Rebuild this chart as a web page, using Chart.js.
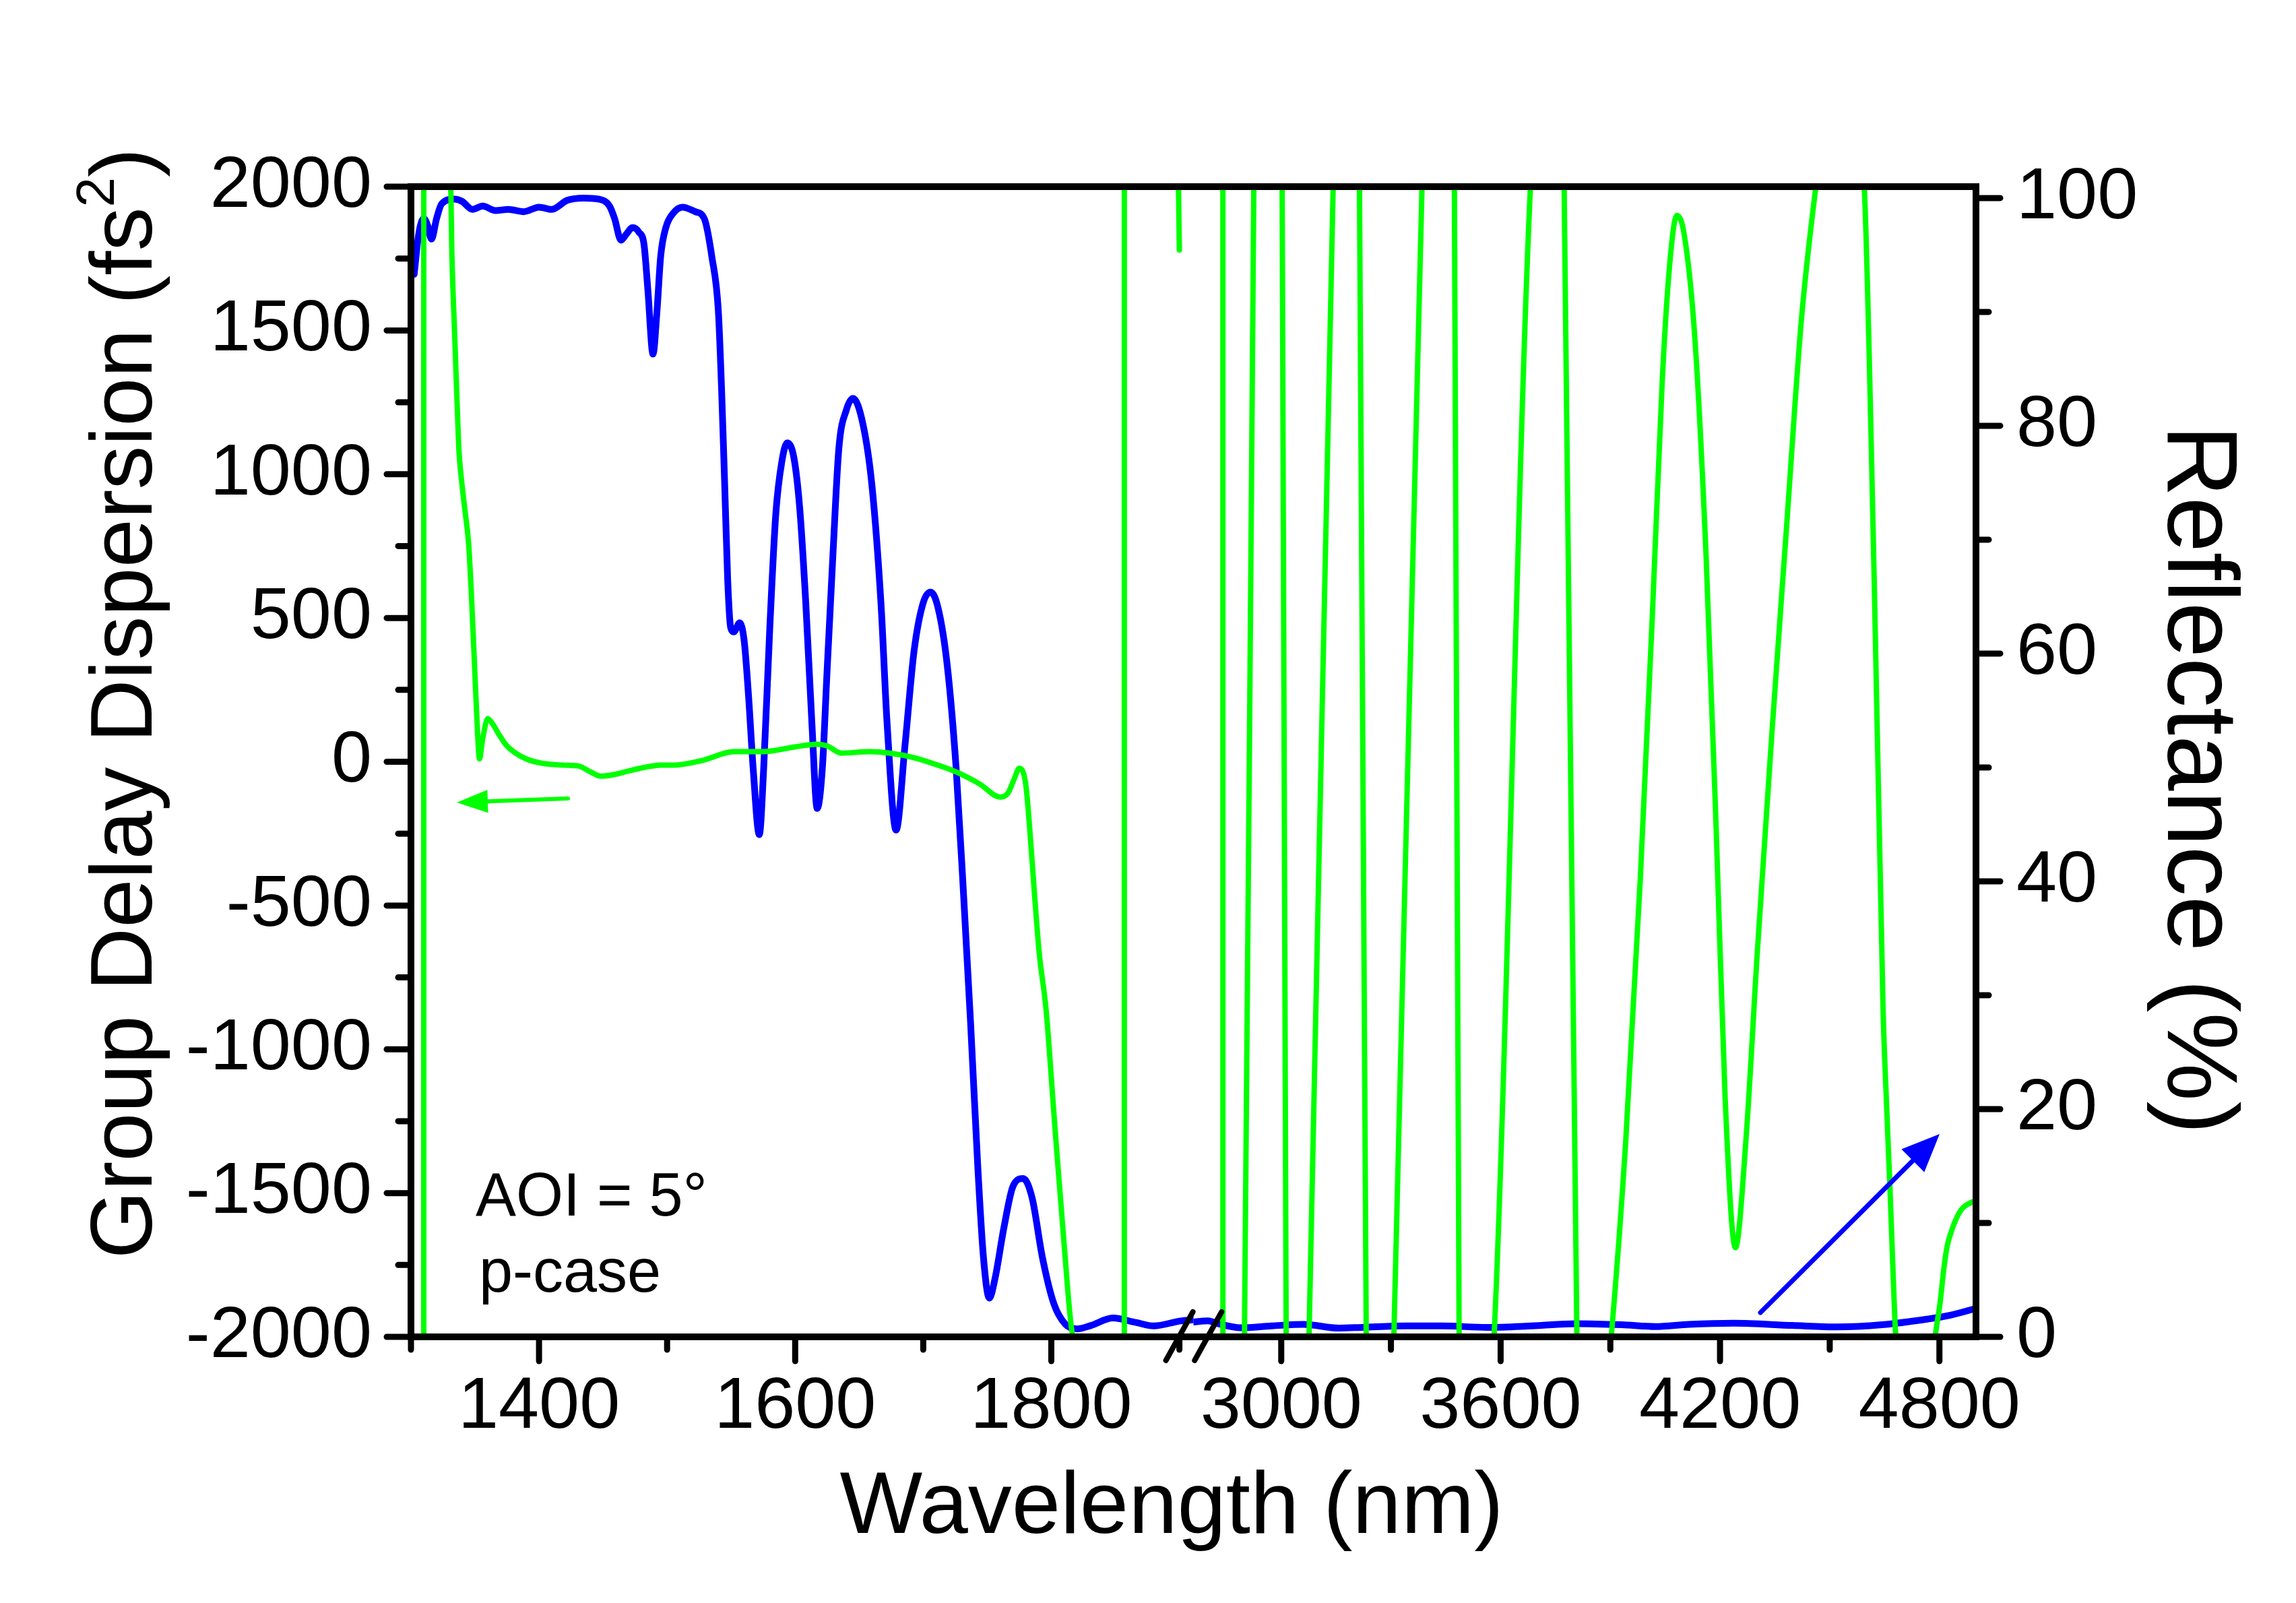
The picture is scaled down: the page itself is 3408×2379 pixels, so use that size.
<!DOCTYPE html>
<html>
<head>
<meta charset="utf-8">
<script src="https://cdn.jsdelivr.net/npm/chart.js@4.4.1/dist/chart.umd.min.js"></script>
<style>
  html, body { margin: 0; padding: 0; background: #fff; }
</style>
</head>
<body>
<canvas id="myChart" width="3408" height="2379"></canvas>
<script>
// ---- data ----
// reflectance (%), blue, short-wave part of the broken axis
const reflLeftNm = [1302.5, 1306, 1310, 1313, 1316, 1320, 1324, 1334, 1340, 1348, 1356, 1366, 1376, 1388, 1400, 1410, 1422, 1435, 1447, 1455, 1459, 1464, 1468, 1473, 1478, 1482, 1485, 1489, 1492, 1495, 1499, 1505, 1512, 1522, 1529, 1535, 1540, 1542.6, 1545, 1547.3, 1549.6, 1552, 1556.7, 1560.2, 1563.7, 1567.2, 1572, 1575.4, 1580.2, 1584.9, 1589.5, 1593.8, 1599, 1603.6, 1608.3, 1613, 1617.2, 1621.2, 1624.8, 1629.4, 1634.1, 1640, 1645.2, 1653, 1660, 1667, 1671.7, 1678.8, 1685.8, 1692.8, 1699.8, 1705.7, 1711.6, 1718.7, 1725.7, 1731.5, 1737, 1742.7, 1747, 1751.6, 1756, 1763, 1770, 1778, 1785, 1793, 1802, 1811, 1820, 1831, 1848, 1866, 1880, 1901, 1911];
const reflLeftPct = [93.3, 96.8, 98.2, 97.6, 96.4, 98.2, 99.5, 99.9, 99.7, 99.0, 99.3, 98.9, 99.0, 98.8, 99.2, 99.0, 99.8, 100.0, 99.9, 99.3, 98.2, 96.3, 96.8, 97.4, 97.0, 95.9, 91.9, 86.3, 89.9, 94.9, 97.4, 98.7, 99.2, 98.8, 98.2, 94.8, 90.1, 83.0, 74.7, 66.5, 62.3, 61.9, 62.7, 61.1, 56.1, 49.9, 44.1, 49.9, 62.3, 72.3, 76.8, 78.5, 77.2, 72.7, 64.4, 54.0, 46.4, 49.9, 58.2, 68.5, 78.0, 81.4, 82.4, 80.1, 74.7, 64.4, 54.0, 44.5, 52.0, 60.2, 64.4, 65.4, 64.0, 59.0, 49.9, 38.8, 27.5, 14.7, 7.0, 3.4, 5.1, 9.6, 13.2, 13.9, 12.2, 7.0, 2.9, 1.1, 0.7, 1.0, 1.65, 1.26, 0.96, 1.4, 1.5];
// reflectance (%), long-wave part
const reflRightNm = [2760, 2800, 2827, 2888, 2974, 3060, 3158, 3220, 3342, 3440, 3563, 3685, 3808, 3931, 4023, 4115, 4238, 4398, 4520, 4643, 4766, 4830, 4900];
const reflRightPct = [1.3, 1.4, 1.16, 0.8, 0.96, 1.1, 0.77, 0.83, 0.96, 0.96, 0.83, 0.96, 1.16, 1.06, 0.9, 1.1, 1.2, 1.0, 0.87, 1.06, 1.55, 1.9, 2.5];

// group delay dispersion (fs^2), green; values past +-2000 run off the plot
const gddLeftNm = [1300, 1309.8, 1310.2, 1325, 1331, 1332, 1334, 1336, 1337.5, 1339, 1342, 1345, 1347, 1349.5, 1352, 1353.5, 1356, 1360, 1364, 1368, 1374, 1380, 1390, 1402, 1420, 1431, 1440, 1448, 1458, 1470, 1482, 1495, 1505, 1528, 1552, 1575, 1599, 1617, 1625, 1636, 1658, 1674, 1693, 1716, 1730, 1744, 1760, 1766, 1771, 1775, 1780, 1783, 1787, 1790.5, 1796, 1802, 1810, 1817, 1830, 1856.9, 1857.1, 1880, 1898, 1900];
const gddLeftFs2 = [-2600, -30000, 30000, 2600, 2000, 1759, 1501, 1251, 1080, 1000, 880, 760, 600, 350, 100, 10, 80, 150, 130, 100, 60, 35, 10, -5, -12, -15, -35, -50, -45, -32, -20, -12, -12, 5, 35, 35, 51, 61, 55, 30, 35, 30, 14, -19, -44, -77, -123, -110, -60, -23, -77, -225, -468, -662, -866, -1222, -1679, -2000, -2600, -30000, 30000, 2600, 2300, 1780];
const gddRightNm = [2800, 2840.3, 2840.7, 2870, 2899.4, 2925, 2962, 3002.5, 3013.5, 3045, 3076, 3142, 3178, 3214, 3232.5, 3270, 3308, 3385, 3430, 3473.6, 3486.5, 3534, 3582, 3681.6, 3728, 3773.7, 3808.6, 3855, 3902.5, 3942, 3982, 4015, 4042, 4062.6, 4082, 4102, 4131, 4162, 4190, 4214, 4242, 4270.5, 4302, 4342, 4382, 4422, 4462, 4528, 4594.5, 4622, 4646, 4655, 4665, 4674, 4680, 4735, 4790, 4802, 4812, 4821, 4833, 4845, 4863, 4900];
const gddRightFs2 = [2600, 30000, -30000, -2600, -2000, 2000, 2600, 2000, -2000, -2600, -2000, 2000, 2600, 2000, -2000, -2600, -2000, 2000, 2600, 2000, -2000, -2600, -2000, 2000, 2600, 2000, -2000, -2600, -2000, -1323, -407, 510, 1325, 1733, 1900, 1834, 1477, 713, -254, -1170, -1690, -1323, -662, 102, 817, 1529, 2000, 2600, 2000, 612, -866, -1178, -1491, -1803, -1984, -2600, -1984, -1880, -1764, -1686, -1632, -1592, -1553, -1525];

// axes
const xLeftTicks = [1300, 1400, 1500, 1600, 1700, 1800, 1900];
const xRightTicks = [3000, 3300, 3600, 3900, 4200, 4500, 4800];
const xTickLabels = [1400, 1600, 1800, 3000, 3600, 4200, 4800];
const gddTicks = [-2000, -1750, -1500, -1250, -1000, -750, -500, -250, 0, 250, 500, 750, 1000, 1250, 1500, 1750, 2000];
const reflTicks = [0, 10, 20, 30, 40, 50, 60, 70, 80, 90, 100];

const FONT = "'Liberation Sans', Arial, Helvetica, sans-serif";
const GREEN = '#00ff00';
const BLUE = '#0000ff';

function pts(xs, ys) {
  return xs.map((x, i) => ({x: x, y: ys[i]}));
}

function line(ctx, x1, y1, x2, y2) {
  ctx.beginPath();
  ctx.moveTo(x1, y1);
  ctx.lineTo(x2, y2);
  ctx.stroke();
}

function arrow(ctx, x1, y1, x2, y2, color, width, headLen, headHalf) {
  const ang = Math.atan2(y2 - y1, x2 - x1);
  const bx = x2 - headLen * Math.cos(ang);
  const by = y2 - headLen * Math.sin(ang);
  ctx.strokeStyle = color;
  ctx.fillStyle = color;
  ctx.lineWidth = width;
  ctx.lineCap = 'round';
  line(ctx, x1, y1, bx, by);
  ctx.beginPath();
  ctx.moveTo(x2, y2);
  ctx.lineTo(bx + headHalf * Math.sin(ang), by - headHalf * Math.cos(ang));
  ctx.lineTo(bx - headHalf * Math.sin(ang), by + headHalf * Math.cos(ang));
  ctx.closePath();
  ctx.fill();
}

// frame, tick marks, axis break, titles and notes
const decor = {
  id: 'decor',
  afterDraw(chart) {
    const {ctx, chartArea: a, scales} = chart;
    ctx.save();
    ctx.strokeStyle = '#000';
    ctx.lineCap = 'round';
    ctx.lineWidth = 9;

    scales.yL.ticks.forEach(t => {
      const y = scales.yL.getPixelForValue(t.value);
      line(ctx, a.left, y, a.left - (t.value % 500 === 0 ? 36 : 19), y);
    });
    scales.yR.ticks.forEach(t => {
      const y = scales.yR.getPixelForValue(t.value);
      line(ctx, a.right, y, a.right + (t.value % 20 === 0 ? 36 : 19), y);
    });
    [scales.xL, scales.xR].forEach(s => {
      s.ticks.forEach(t => {
        const x = s.getPixelForValue(t.value);
        line(ctx, x, a.bottom, x, a.bottom + (xTickLabels.includes(t.value) ? 36 : 19));
      });
    });

    ctx.lineWidth = 10;
    ctx.lineCap = 'butt';
    ctx.lineJoin = 'miter';
    ctx.strokeRect(a.left, a.top, a.right - a.left, a.bottom - a.top);

    // axis break marks
    ctx.lineWidth = 8;
    ctx.lineCap = 'round';
    [scales.xL.getPixelForValue(1900), scales.xR.getPixelForValue(2800)].forEach(x => {
      line(ctx, x - 20, a.bottom + 35, x + 20, a.bottom - 37);
    });

    // axis titles
    ctx.fillStyle = '#000';
    ctx.textBaseline = 'alphabetic';
    ctx.font = '130px ' + FONT;
    ctx.textAlign = 'center';
    ctx.fillText('Wavelength (nm)', 1739, 2275);

    ctx.save();
    ctx.translate(225, 1044);
    ctx.rotate(-Math.PI / 2);
    const main = 'Group Delay Dispersion (fs';
    ctx.font = '130px ' + FONT;
    const w1 = ctx.measureText(main).width;
    const w3 = ctx.measureText(')').width;
    ctx.font = '80px ' + FONT;
    const w2 = ctx.measureText('2').width;
    let x0 = -(w1 + w2 + w3) / 2;
    ctx.textAlign = 'left';
    ctx.font = '130px ' + FONT;
    ctx.fillText(main, x0, 0);
    ctx.font = '80px ' + FONT;
    ctx.fillText('2', x0 + w1, -56);
    ctx.font = '130px ' + FONT;
    ctx.fillText(')', x0 + w1 + w2, 0);
    ctx.restore();

    ctx.save();
    ctx.translate(3218, 1157);
    ctx.rotate(Math.PI / 2);
    ctx.textAlign = 'center';
    ctx.font = '148px ' + FONT;
    ctx.fillText('Reflectance (%)', 0, 0);
    ctx.restore();

    // notes
    ctx.textAlign = 'left';
    ctx.font = '90px ' + FONT;
    ctx.fillText('AOI = 5\u00b0', 706, 1804);
    ctx.fillText('p-case', 711, 1917);

    arrow(ctx, 843, 1185, 678, 1191, GREEN, 6, 46, 17);
    arrow(ctx, 2613, 1948, 2879, 1683, BLUE, 7, 56, 24);
    ctx.restore();
  }
};

const tickFont = {family: FONT, size: 108};

new Chart(document.getElementById('myChart').getContext('2d'), {
  type: 'line',
  data: {
    datasets: [
      {data: pts(gddLeftNm, gddLeftFs2), xAxisID: 'xL', yAxisID: 'yL', borderColor: GREEN, borderWidth: 8},
      {data: pts(gddRightNm, gddRightFs2), xAxisID: 'xR', yAxisID: 'yL', borderColor: GREEN, borderWidth: 8},
      {data: pts(reflLeftNm, reflLeftPct), xAxisID: 'xL', yAxisID: 'yR', borderColor: BLUE, borderWidth: 10},
      {data: pts(reflRightNm, reflRightPct), xAxisID: 'xR', yAxisID: 'yR', borderColor: BLUE, borderWidth: 10}
    ]
  },
  options: {
    responsive: false,
    animation: false,
    devicePixelRatio: 1,
    layout: {padding: {top: 277, left: 0, right: 0, bottom: 0}},
    elements: {
      point: {radius: 0},
      line: {cubicInterpolationMode: 'monotone', fill: false, borderCapStyle: 'round', borderJoinStyle: 'round'}
    },
    datasets: {line: {clip: 0}},
    plugins: {legend: {display: false}, tooltip: {enabled: false}},
    scales: {
      xL: {
        type: 'linear', position: 'bottom', stack: 'wl', stackWeight: 1,
        min: 1300, max: 1911,
        grid: {display: false, drawTicks: false}, border: {display: false},
        afterBuildTicks: s => { s.ticks = xLeftTicks.map(v => ({value: v})); },
        afterFit: s => { s.height = 395; },
        ticks: {autoSkip: false, maxRotation: 0, padding: 40, color: '#000', font: tickFont,
          callback: v => xTickLabels.includes(v) ? String(v) : ''}
      },
      xR: {
        type: 'linear', position: 'bottom', stack: 'wl', stackWeight: 1,
        min: 2760, max: 4900,
        grid: {display: false, drawTicks: false}, border: {display: false},
        afterBuildTicks: s => { s.ticks = xRightTicks.map(v => ({value: v})); },
        afterFit: s => { s.height = 395; },
        ticks: {autoSkip: false, maxRotation: 0, padding: 40, color: '#000', font: tickFont,
          callback: v => xTickLabels.includes(v) ? String(v) : ''}
      },
      yL: {
        type: 'linear', position: 'left', min: -2000, max: 2000,
        grid: {display: false, drawTicks: false}, border: {display: false},
        afterBuildTicks: s => { s.ticks = gddTicks.map(v => ({value: v})); },
        afterFit: s => { s.width = 610; },
        ticks: {autoSkip: false, padding: 58, color: '#000', font: tickFont,
          callback: v => v % 500 === 0 ? String(v) : ''}
      },
      yR: {
        type: 'linear', position: 'right', min: 0, max: 101,
        grid: {display: false, drawTicks: false}, border: {display: false},
        afterBuildTicks: s => { s.ticks = reflTicks.map(v => ({value: v})); },
        afterFit: s => { s.width = 475; },
        ticks: {autoSkip: false, padding: 60, color: '#000', font: tickFont,
          callback: v => v % 20 === 0 ? String(v) : ''}
      }
    }
  },
  plugins: [decor]
});
</script>
</body>
</html>
